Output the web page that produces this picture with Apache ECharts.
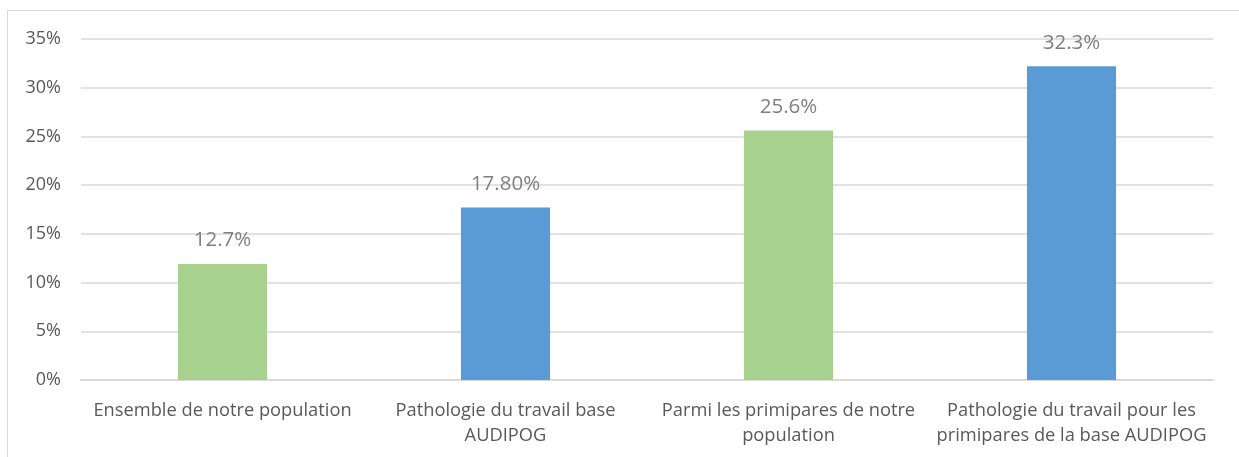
<!DOCTYPE html>
<html>
<head>
<meta charset="utf-8">
<script src="https://cdn.jsdelivr.net/npm/echarts@6/dist/echarts.min.js"></script>
<style>
  html, body { margin: 0; padding: 0; background: #fff; }
  #frame { position: absolute; left: 7px; top: 10px; width: 1240px; height: 460px; border: 1px solid #d9d9d9; box-sizing: border-box; }
  #chart { position: absolute; left: 0; top: 0; width: 1239px; height: 457px; }
</style>
</head>
<body>
<div id="frame"></div>
<div id="chart"></div>
<script>
const categories = [
  'Ensemble de notre population',
  'Pathologie du travail base\nAUDIPOG',
  'Parmi les primipares de notre\npopulation',
  'Pathologie du travail pour les\nprimipares de la base AUDIPOG'
];
const values = [11.9, 17.7, 25.6, 32.2];
const valueLabels = ['12.7%', '17.80%', '25.6%', '32.3%'];
const barColors = ['#a9d18e', '#5b9bd5', '#a9d18e', '#5b9bd5'];

const chart = echarts.init(document.getElementById('chart'), null, { renderer: 'canvas' });
const font = '"Open Sans", "Noto Sans", sans-serif';

chart.setOption({
  animation: false,
  grid: { left: 81, right: 26, top: 39, bottom: 77 },
  xAxis: {
    type: 'category',
    data: categories,
    axisLine: { lineStyle: { color: '#d9d9d9', width: 2 } },
    axisTick: { show: false },
    axisLabel: {
      color: '#595959',
      fontFamily: font,
      fontSize: 18.3,
      lineHeight: 25,
      margin: 18,
      interval: 0
    }
  },
  yAxis: {
    type: 'value',
    min: 0,
    max: 35,
    interval: 5,
    axisLine: { show: false },
    axisTick: { show: false },
    splitLine: { lineStyle: { color: '#d9d9d9', width: 1.5 } },
    axisLabel: {
      color: '#595959',
      fontFamily: font,
      fontSize: 18,
      margin: 20,
      formatter: v => v + '%'
    }
  },
  series: [{
    type: 'bar',
    barWidth: '31.5%',
    data: values.map((v, i) => ({ value: v, itemStyle: { color: barColors[i] } })),
    label: {
      show: true,
      position: 'top',
      distance: 13,
      color: '#7f7f7f',
      fontFamily: font,
      fontSize: 20.5,
      formatter: p => valueLabels[p.dataIndex]
    }
  }]
});
</script>
</body>
</html>
